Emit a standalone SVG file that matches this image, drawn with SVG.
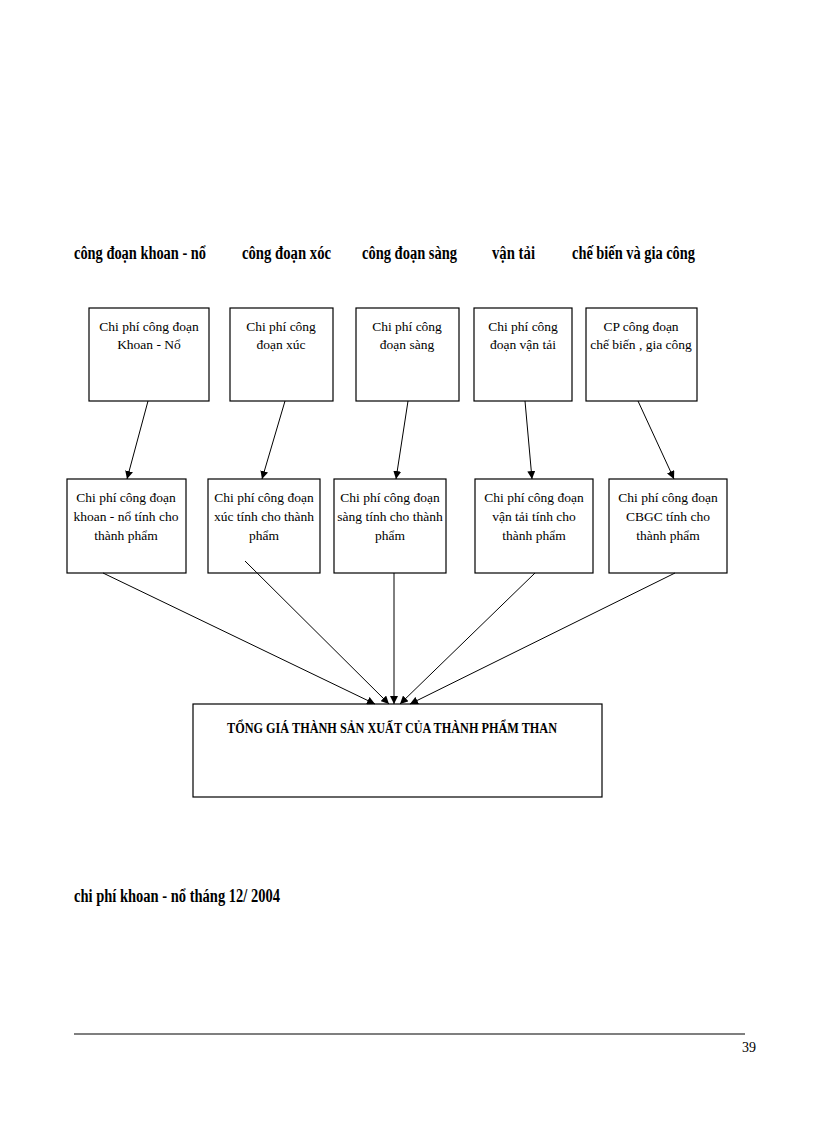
<svg xmlns="http://www.w3.org/2000/svg" width="816" height="1123" viewBox="0 0 816 1123">
<defs>
<style>
.h{font-family:"Liberation Serif",serif;font-weight:bold;font-size:18px;fill:#000}
.t{font-family:"Liberation Serif",serif;font-size:13.5px;fill:#000;text-anchor:middle}
.b{fill:#fff;stroke:#000;stroke-width:1.2}
.c line{stroke:#000;stroke-width:1;marker-end:url(#a)}
</style>
<marker id="a" viewBox="0 0 10 10" refX="10" refY="5" markerWidth="8" markerHeight="8" orient="auto" markerUnits="userSpaceOnUse"><path d="M0,0 L10,5 L0,10 z" fill="#000"/></marker>
</defs>
<rect width="816" height="1123" fill="#fff"/>
<text class="h" x="74" y="259" textLength="132" lengthAdjust="spacingAndGlyphs">công đoạn khoan - nổ</text>
<text class="h" x="242" y="259" textLength="89" lengthAdjust="spacingAndGlyphs">công đoạn xóc</text>
<text class="h" x="362" y="259" textLength="95" lengthAdjust="spacingAndGlyphs">công đoạn sàng</text>
<text class="h" x="492" y="259" textLength="43" lengthAdjust="spacingAndGlyphs">vận tải</text>
<text class="h" x="572" y="259" textLength="123" lengthAdjust="spacingAndGlyphs">chế biến và gia công</text>
<g id="n1"><rect class="b" x="89" y="308" width="120" height="93"/><text class="t" x="149" y="331">Chi phí công đoạn</text><text class="t" x="149" y="349">Khoan - Nổ</text></g>
<g id="n2"><rect class="b" x="230" y="308" width="103" height="93"/><text class="t" x="281" y="331">Chi phí công</text><text class="t" x="281" y="349">đoạn xúc</text></g>
<g id="n3"><rect class="b" x="356" y="308" width="103" height="93"/><text class="t" x="407" y="331">Chi phí công</text><text class="t" x="407" y="349">đoạn sàng</text></g>
<g id="n4"><rect class="b" x="474" y="308" width="98" height="93"/><text class="t" x="523" y="331">Chi phí công</text><text class="t" x="523" y="349">đoạn vận tải</text></g>
<g id="n5"><rect class="b" x="586" y="308" width="111" height="93"/><text class="t" x="641" y="331">CP công đoạn</text><text class="t" x="641" y="349">chế biến , gia công</text></g>
<g id="m1"><rect class="b" x="67" y="479" width="119" height="94"/><text class="t" x="126" y="502">Chi phí công đoạn</text><text class="t" x="126" y="521">khoan - nổ tính cho</text><text class="t" x="126" y="540">thành phẩm</text></g>
<g id="m2"><rect class="b" x="208" y="479" width="112" height="94"/><text class="t" x="264" y="502">Chi phí công đoạn</text><text class="t" x="264" y="521">xúc tính cho thành</text><text class="t" x="264" y="540">phẩm</text></g>
<g id="m3"><rect class="b" x="334" y="479" width="112" height="94"/><text class="t" x="390" y="502">Chi phí công đoạn</text><text class="t" x="390" y="521">sàng tính cho thành</text><text class="t" x="390" y="540">phẩm</text></g>
<g id="m4"><rect class="b" x="475" y="479" width="118" height="94"/><text class="t" x="534" y="502">Chi phí công đoạn</text><text class="t" x="534" y="521">vận tải tính cho</text><text class="t" x="534" y="540">thành phẩm</text></g>
<g id="m5"><rect class="b" x="609" y="479" width="118" height="94"/><text class="t" x="668" y="502">Chi phí công đoạn</text><text class="t" x="668" y="521">CBGC tính cho</text><text class="t" x="668" y="540">thành phẩm</text></g>
<g id="total"><rect class="b" x="193" y="704" width="409" height="93"/><text x="392" y="733" font-family="Liberation Serif,serif" font-weight="bold" font-size="14" text-anchor="middle" textLength="330" lengthAdjust="spacingAndGlyphs">TỔNG GIÁ THÀNH SẢN XUẤT CỦA THÀNH PHẨM THAN</text></g>
<g class="c">
<line x1="148" y1="401" x2="127" y2="479"/>
<line x1="285" y1="401" x2="262" y2="479"/>
<line x1="408" y1="401" x2="396" y2="479"/>
<line x1="525" y1="401" x2="532" y2="479"/>
<line x1="638" y1="401" x2="674" y2="479"/>
<line x1="103" y1="573" x2="375" y2="704"/>
<line x1="245" y1="561" x2="389" y2="704"/>
<line x1="394" y1="573" x2="394" y2="704"/>
<line x1="535" y1="573" x2="400" y2="704"/>
<line x1="675" y1="573" x2="410" y2="704"/>
</g>
<text class="h" x="74" y="902" textLength="206" lengthAdjust="spacingAndGlyphs">chi phí khoan - nổ tháng 12/ 2004</text>
<line x1="74" y1="1034" x2="745" y2="1034" stroke="#000" stroke-width="1.2"/>
<text x="742" y="1052" font-family="Liberation Serif,serif" font-size="14">39</text>
</svg>
